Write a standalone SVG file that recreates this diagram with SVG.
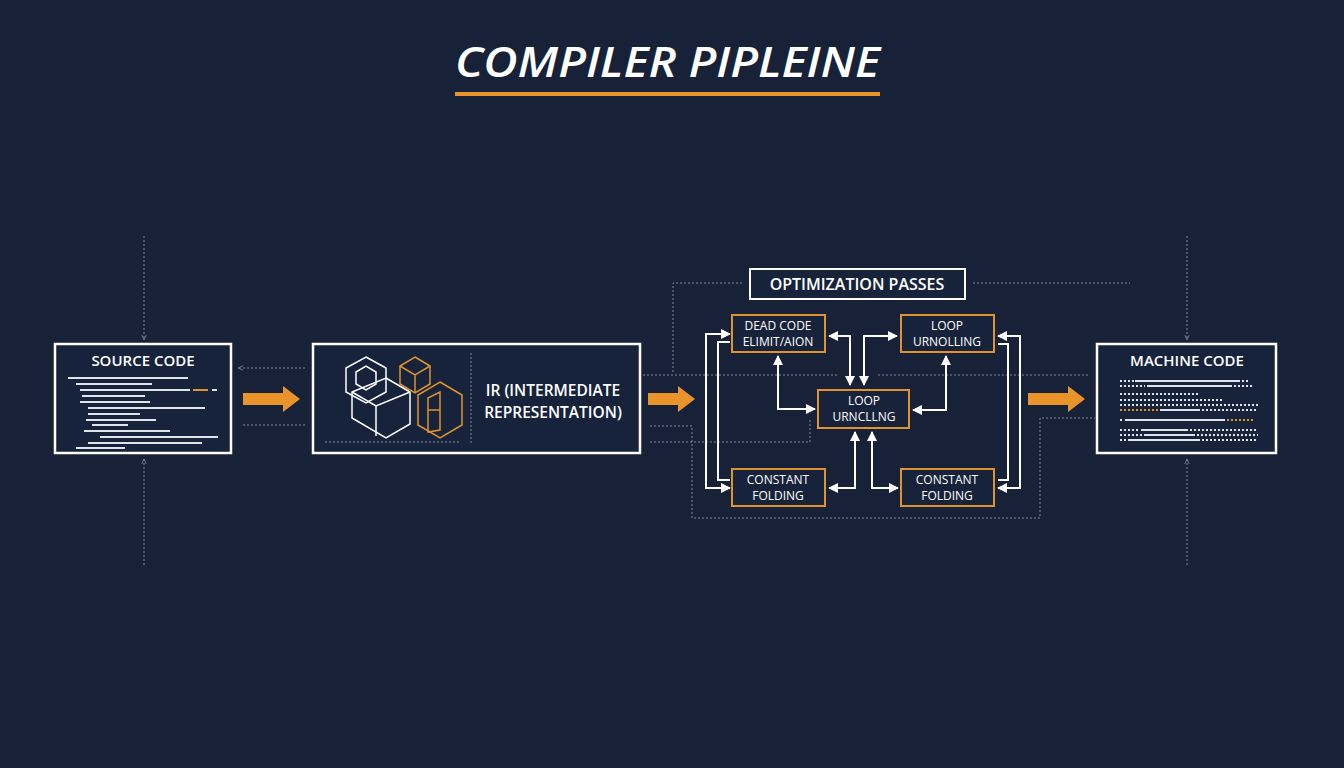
<svg xmlns="http://www.w3.org/2000/svg" width="1344" height="768" viewBox="0 0 1344 768">
<defs>
<marker id="ah" viewBox="0 0 10 10" refX="9" refY="5" markerWidth="5" markerHeight="5" orient="auto-start-reverse"><path d="M0,0L10,5L0,10z" fill="#fff"/></marker>
<marker id="sa" viewBox="0 0 10 10" refX="9" refY="5" markerWidth="6" markerHeight="6" orient="auto-start-reverse"><path d="M0,1L9,5L0,9" fill="none" stroke="#8a93a6" stroke-width="1.2"/></marker>
<style>
.t{font-family:"Open Sans","Liberation Sans",sans-serif;fill:#fff;font-weight:600}
.wb{fill:#17233b;stroke:#fff;stroke-width:2.5}
.ob{fill:#17233b;stroke:#e0922e;stroke-width:2}
.dot{fill:none;stroke:#7d889c;stroke-width:1;stroke-dasharray:2 2}
.con{fill:none;stroke:#fff;stroke-width:2;marker-start:url(#ah);marker-end:url(#ah)}
.code{stroke:#dfe3ea;stroke-width:2}
.cd{stroke:#dfe3ea;stroke-width:2;stroke-dasharray:2 2}
.cube{fill:none;stroke:#fff;stroke-width:1.5}
.cubeo{fill:none;stroke:#e0922e;stroke-width:1.5}
.n{font-size:12px;font-weight:500}
</style>
</defs>
<rect width="1344" height="768" fill="#172239"/>
<g id="title">
<text x="455" y="77" class="t" font-size="42" font-style="italic" font-weight="700" textLength="425" lengthAdjust="spacingAndGlyphs">COMPILER PIPLEINE</text>
<rect x="455" y="92" width="425" height="4" fill="#e8942a"/>
</g>
<g id="connectors">
<line x1="144" y1="236" x2="144" y2="340" class="dot" marker-end="url(#sa)"/>
<line x1="144" y1="565" x2="144" y2="459" class="dot" marker-end="url(#sa)"/>
<line x1="1187" y1="236" x2="1187" y2="340" class="dot" marker-end="url(#sa)"/>
<line x1="1187" y1="565" x2="1187" y2="459" class="dot" marker-end="url(#sa)"/>
<line x1="305" y1="368" x2="238" y2="368" class="dot" marker-end="url(#sa)"/>
<line x1="243" y1="425" x2="306" y2="425" class="dot"/>
<path d="M243,393H283V386L300,399L283,412V405H243z" fill="#e8942a"/>
<path d="M648,393H678V386L695,399L678,412V405H648z" fill="#e8942a"/>
<path d="M1028,393H1068V386L1085,399L1068,412V405H1028z" fill="#e8942a"/>
<path d="M742,283H673V372" class="dot"/>
<line x1="973" y1="283" x2="1130" y2="283" class="dot"/>
<line x1="643" y1="375" x2="837" y2="375" class="dot"/>
<line x1="878" y1="375" x2="1090" y2="375" class="dot"/>
<path d="M650,442H810V418" class="dot"/>
<path d="M650,426H692V518H1040V418H1095" class="dot"/>
<path d="M730,334H706V488H730" class="con" marker-start="none"/>
<path d="M730,342H718V480H730" fill="none" stroke="#fff" stroke-width="2"/>
<path d="M998,336H1020V488H998" class="con" marker-start="none"/>
<path d="M998,344H1008V480H998" fill="none" stroke="#fff" stroke-width="2"/>
<path d="M778,356V409H815" class="con"/>
<path d="M829,336H850V385" class="con"/>
<path d="M864,385V336H897" class="con"/>
<path d="M946,356V410H913" class="con"/>
<path d="M855,432V488H829" class="con"/>
<path d="M872,432V488H898" class="con"/>
</g>
<g id="source">
<rect x="55" y="344" width="176" height="109" class="wb"/>
<text x="143" y="366" text-anchor="middle" class="t" font-size="15">SOURCE CODE</text>
<g>
<line x1="68" y1="378" x2="188" y2="378" class="code"/>
<line x1="76" y1="384" x2="152" y2="384" class="code"/>
<line x1="80" y1="390" x2="190" y2="390" class="code"/><line x1="193" y1="390" x2="208" y2="390" stroke="#e0922e" stroke-width="2"/><line x1="212" y1="390" x2="217" y2="390" class="code"/>
<line x1="82" y1="396" x2="145" y2="396" class="code"/>
<line x1="80" y1="402" x2="150" y2="402" class="code"/>
<line x1="88" y1="408" x2="205" y2="408" class="code"/>
<line x1="88" y1="414" x2="140" y2="414" class="code"/>
<line x1="86" y1="420" x2="156" y2="420" class="code"/>
<line x1="92" y1="425" x2="128" y2="425" class="code"/>
<line x1="84" y1="431" x2="170" y2="431" class="code"/>
<line x1="100" y1="437" x2="218" y2="437" class="code"/>
<line x1="88" y1="443" x2="202" y2="443" class="code"/>
<line x1="76" y1="448" x2="125" y2="448" class="code"/>
</g>
</g>
<g id="ir">
<rect x="313" y="344" width="327" height="109" class="wb"/>
<line x1="471" y1="353" x2="471" y2="443" class="dot"/>
<line x1="325" y1="442" x2="461" y2="442" class="dot"/>
<path d="M366,357L386,368V392L366,403L346,392V368z" class="cube"/>
<path d="M356,372L366,366L376,372V384L366,390L356,384z" class="cube"/>
<path d="M386,378L410,392V424L386,438L352,418V392z" class="cube"/>
<path d="M352,392L376,406L410,392M376,406V436" class="cube"/>
<path d="M415,357L430,366V384L415,393L400,384V366z" class="cubeo"/>
<path d="M400,366L415,375L430,366M415,375V393" class="cubeo"/>
<path d="M440,382L462,395V425L440,438L418,425V395z" class="cubeo"/>
<path d="M428,398L440,392V430L428,432zM428,410H440" class="cubeo"/>
<text x="553" y="396" text-anchor="middle" class="t" font-size="15.5">IR (INTERMEDIATE</text>
<text x="553" y="418" text-anchor="middle" class="t" font-size="15.5">REPRESENTATION)</text>
</g>
<g id="optimization-passes">
<rect x="750" y="269" width="215" height="30" fill="#17233b" stroke="#fff" stroke-width="2"/>
<text x="857" y="290" text-anchor="middle" class="t" font-size="16">OPTIMIZATION PASSES</text>
</g>
<g id="dead-code">
<rect x="732" y="315" width="93" height="37" class="ob"/>
<text x="778" y="330" text-anchor="middle" class="t n">DEAD CODE</text>
<text x="778" y="346" text-anchor="middle" class="t n">ELIMIT/AION</text>
</g>
<g id="loop-top">
<rect x="901" y="315" width="93" height="37" class="ob"/>
<text x="947" y="330" text-anchor="middle" class="t n">LOOP</text>
<text x="947" y="346" text-anchor="middle" class="t n">URNOLLING</text>
</g>
<g id="loop-center">
<rect x="818" y="390" width="91" height="38" class="ob"/>
<text x="864" y="405" text-anchor="middle" class="t n">LOOP</text>
<text x="864" y="421" text-anchor="middle" class="t n">URNCLLNG</text>
</g>
<g id="const-left">
<rect x="732" y="469" width="93" height="37" class="ob"/>
<text x="778" y="484" text-anchor="middle" class="t n">CONSTANT</text>
<text x="778" y="500" text-anchor="middle" class="t n">FOLDING</text>
</g>
<g id="const-right">
<rect x="901" y="469" width="93" height="37" class="ob"/>
<text x="947" y="484" text-anchor="middle" class="t n">CONSTANT</text>
<text x="947" y="500" text-anchor="middle" class="t n">FOLDING</text>
</g>
<g id="machine">
<rect x="1097" y="344" width="179" height="109" class="wb"/>
<text x="1187" y="366" text-anchor="middle" class="t" font-size="15">MACHINE CODE</text>
<line x1="1120" y1="381" x2="1134" y2="381" class="cd"/><line x1="1135" y1="381" x2="1240" y2="381" class="code"/><line x1="1242" y1="381" x2="1250" y2="381" class="cd"/>
<line x1="1120" y1="386" x2="1145" y2="386" class="cd"/><line x1="1147" y1="386" x2="1232" y2="386" class="code"/><line x1="1234" y1="386" x2="1252" y2="386" class="cd"/>
<line x1="1120" y1="394" x2="1200" y2="394" class="cd"/>
<line x1="1120" y1="400" x2="1222" y2="400" class="cd"/>
<line x1="1120" y1="405" x2="1258" y2="405" class="cd"/>
<line x1="1120" y1="410" x2="1160" y2="410" stroke="#e0922e" stroke-width="2" stroke-dasharray="2 2"/><line x1="1160" y1="410" x2="1200" y2="410" class="code"/><line x1="1202" y1="410" x2="1258" y2="410" class="cd"/>
<line x1="1120" y1="420" x2="1122" y2="420" class="code"/><line x1="1125" y1="420" x2="1225" y2="420" class="code"/><line x1="1227" y1="420" x2="1255" y2="420" stroke="#e0922e" stroke-width="2" stroke-dasharray="2 2"/>
<line x1="1120" y1="430" x2="1140" y2="430" class="cd"/><line x1="1141" y1="430" x2="1188" y2="430" class="code"/><line x1="1190" y1="430" x2="1258" y2="430" class="cd"/>
<line x1="1120" y1="435" x2="1143" y2="435" class="cd"/><line x1="1144" y1="435" x2="1195" y2="435" class="code"/><line x1="1197" y1="435" x2="1258" y2="435" class="cd"/>
<line x1="1120" y1="440" x2="1126" y2="440" class="cd"/><line x1="1128" y1="440" x2="1200" y2="440" class="code"/><line x1="1202" y1="440" x2="1258" y2="440" class="cd"/>
</g>
</svg>
